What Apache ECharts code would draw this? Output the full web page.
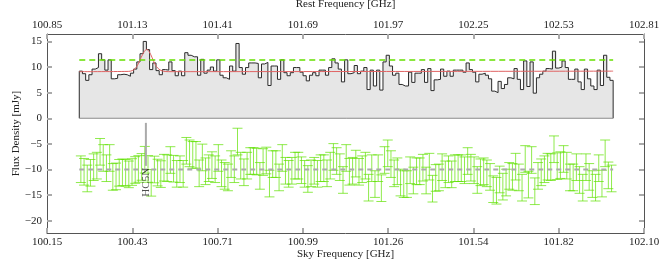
<!DOCTYPE html>
<html><head><meta charset="utf-8">
<script src="https://cdn.jsdelivr.net/npm/echarts@6/dist/echarts.min.js"></script>
<style>html,body{margin:0;padding:0;background:#fff}#c{width:664px;height:266px}</style>
</head><body><div id="c"></div>
<script>
// ---- data ----
const freqStart = 100.2554;   // sky GHz, left edge of first channel
const chanWidth = 0.010442;   // GHz per channel
const flux = [
 9.2,8.7,7.4,8.5,9.6,9.9,12.6,11.4,9.4,11.4,
 7.7,7.8,8.5,8.6,8.5,8.2,8.8,9.6,11.0,12.6,
 15.0,13.4,9.5,10.8,9.3,8.5,9.5,9.4,11.0,9.3,
 8.3,9.2,8.3,12.8,12.3,12.0,12.0,8.4,11.5,8.8,
 9.4,10.0,9.2,11.4,8.4,7.9,7.6,10.2,9.2,14.6,
 9.9,8.6,9.9,10.8,10.8,10.7,7.9,10.6,10.9,6.4,
 10.2,10.2,7.6,11.4,8.9,8.3,8.9,9.9,9.9,9.0,
 8.3,7.3,8.4,8.9,8.3,9.4,9.4,8.4,9.9,11.6,
 10.8,9.6,7.1,11.4,8.7,8.9,10.3,8.7,9.2,9.9,
 5.6,9.4,6.3,9.4,5.5,11.0,12.3,10.2,8.4,8.8,
 6.6,6.3,6.3,9.0,7.0,8.8,8.8,9.5,7.0,9.7,
 5.4,7.5,7.6,9.6,8.2,9.2,8.2,9.4,9.4,9.4,
 9.0,10.8,9.5,9.0,7.1,8.6,8.8,8.4,7.7,5.3,
 5.0,7.2,5.8,6.6,7.9,7.7,9.7,7.6,5.6,11.2,
 6.2,11.0,4.9,7.9,8.6,9.2,9.7,9.6,13.1,9.8,
 10.0,11.2,9.9,7.6,7.6,9.6,7.1,5.6,9.6,7.7,
 6.3,5.6,9.4,6.4,12.3,8.0,7.4
];
const residual = [
 -9.95,-10.45,-11.75,-10.65,-9.55,-9.25,-6.55,-7.75,-9.75,-7.75,
 -11.45,-11.35,-10.65,-10.55,-10.65,-10.95,-10.5,-10.1,-9.9,-9.5,
 -8.1,-9.9,-12.6,-10.0,-10.6,-10.9,-9.65,-9.75,-8.15,-9.85,
 -10.85,-9.95,-10.85,-6.35,-6.85,-7.15,-7.15,-10.75,-7.65,-10.35,
 -9.75,-9.15,-9.95,-7.75,-10.75,-11.25,-11.55,-8.95,-9.95,-4.55,
 -9.25,-10.55,-9.25,-8.35,-8.35,-8.45,-11.25,-8.55,-8.25,-12.75,
 -8.95,-8.95,-11.55,-7.75,-10.25,-10.85,-10.25,-9.25,-9.25,-10.15,
 -10.85,-11.85,-10.75,-10.25,-10.85,-9.75,-9.75,-10.75,-9.25,-7.55,
 -8.35,-9.55,-12.05,-7.75,-10.45,-10.25,-8.85,-10.45,-9.95,-9.25,
 -13.55,-9.75,-12.85,-9.75,-13.65,-8.15,-6.85,-8.95,-10.75,-10.35,
 -12.55,-12.85,-12.85,-10.15,-12.15,-10.35,-10.35,-9.65,-12.15,-9.45,
 -13.75,-11.65,-11.55,-9.55,-10.95,-9.95,-10.95,-9.75,-9.75,-9.75,
 -10.15,-8.35,-9.65,-10.15,-12.05,-10.55,-10.35,-10.75,-11.45,-13.85,
 -14.15,-11.95,-13.35,-12.55,-11.25,-11.45,-9.45,-11.55,-13.55,-7.95,
 -12.95,-8.15,-14.25,-11.25,-10.55,-9.95,-9.45,-9.55,-6.05,-9.35,
 -9.15,-7.95,-9.25,-11.55,-11.55,-9.55,-12.05,-13.55,-9.55,-11.45,
 -12.85,-13.55,-9.75,-12.75,-6.85,-11.15,-11.75
];
const errHalf = 2.6;
const modelFreq = [100.2554,100.4153,100.4283,100.4381,100.4479,100.4577,100.4675,100.4757,100.4838,100.4936,100.5034,100.5132,100.5262,100.5458,101.9992];
const modelFlux = [9.1,9.15,9.3,9.7,10.6,11.9,13.0,13.45,13.0,11.8,10.5,9.7,9.25,9.1,9.2];
const threshLevel = 11.35;
const residBase = -10;
const lineFreq = 100.473;
const lineTop = -0.9, lineBottom = -9.3, lineLabelY = -12.5;
const lineName = 'HC5N';
const skyTicks = ['100.15','100.43','100.71','100.99','101.26','101.54','101.82','102.10'];
const restTicks = ['100.85','101.13','101.41','101.69','101.97','102.25','102.53','102.81'];
const yTickVals = [-20,-15,-10,-5,0,5,10,15];

// ---- build ----
const xMin = 100.15, xMax = 102.10;
const xStep = (xMax - xMin) / (skyTicks.length - 1);
const xTickVals = skyTicks.map((_, i) => xMin + i * xStep);
const xEnd = freqStart + flux.length * chanWidth;

const histData = [[freqStart, 0]];
flux.forEach((v, i) => histData.push([freqStart + i * chanWidth, v]));
histData.push([xEnd, flux[flux.length - 1]]);
histData.push([xEnd, 0]);

const errData = residual.map((v, i) => [freqStart + (i + 0.5) * chanWidth, v]);
const modelData = modelFreq.map((f, i) => [f, modelFlux[i]]);

const font = 'Liberation Serif';
const txt = '#222';
const tickIdx = v => Math.round((v - xMin) / xStep);
const fmtY = v => (v < 0 ? '\u2212' + Math.abs(v) : String(v));

const frame = {lineStyle: {color: '#555', width: 1}};
const tick = {inside: true, length: 5, lineStyle: {color: '#aaa', width: 2}};

const chart = echarts.init(document.getElementById('c'), null, {renderer: 'canvas'});
chart.setOption({
  animation: false,
  backgroundColor: '#fff',
  grid: {left: 47, right: 20, top: 34, bottom: 33, containLabel: false, outerBoundsMode: 'none'},
  xAxis: [{
    type: 'value', position: 'bottom', min: xMin, max: xMax,
    name: 'Sky Frequency [GHz]', nameLocation: 'middle', nameGap: 16, nameMoveOverlap: false,
    nameTextStyle: {fontFamily: font, fontSize: 11, color: txt},
    axisLine: Object.assign({onZero: false}, frame),
    axisTick: Object.assign({customValues: xTickVals}, tick),
    axisLabel: {customValues: xTickVals, fontFamily: font, fontSize: 11, color: txt, margin: 4,
      formatter: v => skyTicks[tickIdx(v)]},
    splitLine: {show: false}
  }, {
    type: 'value', position: 'top', min: xMin, max: xMax,
    name: 'Rest Frequency [GHz]', nameLocation: 'middle', nameGap: 24, nameMoveOverlap: false,
    nameTextStyle: {fontFamily: font, fontSize: 11, color: txt},
    axisLine: Object.assign({onZero: false}, frame),
    axisTick: Object.assign({customValues: xTickVals}, tick),
    axisLabel: {customValues: xTickVals, fontFamily: font, fontSize: 11, color: txt, margin: 3,
      formatter: v => restTicks[tickIdx(v)]},
    splitLine: {show: false}
  }],
  yAxis: [{
    type: 'value', position: 'left', min: -22.4, max: 16.45,
    name: 'Flux Density [mJy]', nameLocation: 'middle', nameGap: 25, nameMoveOverlap: false,
    nameTextStyle: {fontFamily: font, fontSize: 11, color: txt},
    axisLine: Object.assign({onZero: false}, frame),
    axisTick: Object.assign({customValues: yTickVals}, tick),
    axisLabel: {customValues: yTickVals, fontFamily: font, fontSize: 11, color: txt, margin: 5, formatter: fmtY},
    splitLine: {show: false}
  }, {
    type: 'value', position: 'right', min: -22.4, max: 16.45,
    axisLine: Object.assign({onZero: false}, frame),
    axisTick: Object.assign({customValues: yTickVals}, tick),
    axisLabel: {show: false},
    splitLine: {show: false}
  }],
  series: [
    {type: 'line', data: histData, step: 'end', symbol: 'none', z: 2,
     lineStyle: {color: '#2a2a2a', width: 1}, areaStyle: {color: '#e6e6e6', opacity: 1}},
    {type: 'line', data: [[freqStart, 0], [xEnd, 0]], symbol: 'none', z: 3,
     lineStyle: {color: '#8a8a8a', width: 1}},
    {type: 'line', data: modelData, smooth: 0.35, symbol: 'none', z: 4,
     lineStyle: {color: '#e06464', width: 1}},
    {type: 'line', data: [[freqStart, threshLevel], [xEnd, threshLevel]], symbol: 'none', z: 5,
     lineStyle: {color: '#66e000', width: 1.5, type: [6, 4]}},
    {type: 'custom', data: errData, z: 6,
     renderItem: (params, api) => {
       const x = api.value(0), y = api.value(1);
       const t = api.coord([x, y + errHalf]);
       const b = api.coord([x, y - errHalf]);
       const hw = 5;
       const st = {stroke: 'rgba(95,225,0,0.7)', lineWidth: 1};
       return {type: 'group', children: [
         {type: 'line', shape: {x1: t[0], y1: t[1], x2: b[0], y2: b[1]}, style: st},
         {type: 'line', shape: {x1: t[0] - hw, y1: t[1], x2: t[0] + hw, y2: t[1]}, style: st},
         {type: 'line', shape: {x1: b[0] - hw, y1: b[1], x2: b[0] + hw, y2: b[1]}, style: st}
       ]};
     }},
    {type: 'line', data: [[freqStart, residBase], [xEnd, residBase]], symbol: 'none', z: 7,
     lineStyle: {color: '#aaaaaa', width: 2, type: [5, 4]}},
    {type: 'line', data: [[lineFreq, lineTop], [lineFreq, lineBottom]], symbol: 'none', z: 8,
     lineStyle: {color: '#aaaaaa', width: 2}},
    {type: 'scatter', data: [[lineFreq, lineLabelY]], symbolSize: 0, z: 9,
     label: {show: true, position: 'inside', rotate: 90, formatter: lineName,
       fontFamily: font, fontSize: 11, color: '#222'}}
  ]
});
</script>
</body></html>
